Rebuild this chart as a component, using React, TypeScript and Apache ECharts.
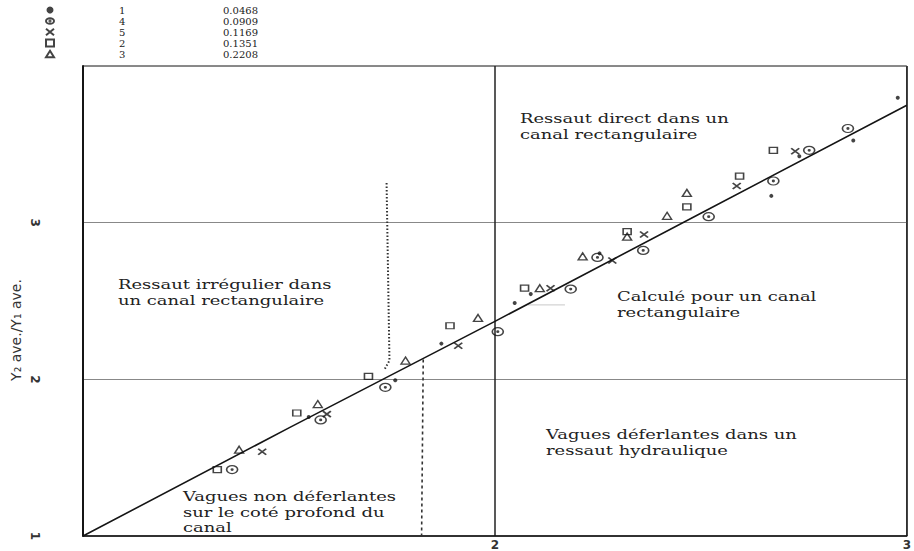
import React, { useEffect, useRef } from "react";
import * as echarts from "echarts";

// Legend: run numbers and their values
const runIds = ["1", "4", "5", "2", "3"];
const runValues = ["0.0468", "0.0909", "0.1169", "0.1351", "0.2208"];

// Measured points [F1, Y2/Y1]
const run1Dots = [
  [1.548, 1.759], [1.758, 1.994], [1.87, 2.228], [2.048, 2.487], [2.087, 2.544],
  [2.254, 2.804], [2.671, 3.171], [2.739, 3.424], [2.87, 3.525], [2.978, 3.797],
];
const run4Circles = [
  [1.362, 1.424], [1.577, 1.741], [1.734, 1.949], [2.007, 2.304], [2.184, 2.576],
  [2.249, 2.778], [2.36, 2.823], [2.519, 3.038], [2.676, 3.266], [2.763, 3.462], [2.857, 3.601],
];
const run5Crosses = [
  [1.435, 1.538], [1.592, 1.778], [1.911, 2.215], [2.135, 2.582], [2.285, 2.759],
  [2.362, 2.924], [2.587, 3.234], [2.729, 3.456],
];
const run2Squares = [
  [1.326, 1.424], [1.519, 1.785], [1.693, 2.019], [1.891, 2.342], [2.072, 2.582],
  [2.321, 2.943], [2.466, 3.101], [2.594, 3.297], [2.676, 3.462],
];
const run3Triangles = [
  [1.379, 1.551], [1.57, 1.842], [1.783, 2.12], [1.959, 2.392], [2.109, 2.582],
  [2.213, 2.785], [2.321, 2.911], [2.418, 3.044], [2.466, 3.19],
];

// Computed curve for a rectangular channel
const theoryCurve = [[1, 1], [1.5, 1.69], [2, 2.37], [2.5, 3.06], [3, 3.75]];

// Boundary guide lines
const dottedGuide = [[1.737, 3.253], [1.744, 2.12], [1.732, 2.063]];
const dashedGuide = [[1.826, 2.127], [1.822, 1.0]];
const faintArrow = [[2.17, 2.475], [2.08, 2.475]];

// Axis ticks
const xTicks = { min: 1, max: 3, interval: 1 };
const yTicks = { min: 1, max: 4, interval: 1 };

const annotations = [
  { text: "Ressaut direct dans un\ncanal rectangulaire", x: 520, y: 111 },
  { text: "Ressaut irrégulier dans\nun canal rectangulaire", x: 118, y: 277 },
  { text: "Calculé pour un canal\nrectangulaire", x: 617, y: 289 },
  { text: "Vagues déferlantes dans un\nressaut hydraulique", x: 546, y: 427 },
  { text: "Vagues non déferlantes\nsur le coté profond du\ncanal", x: 183, y: 489 },
];

const INK = "#151515";
const SERIF = '"DejaVu Serif", "Liberation Serif", serif';

export default function App() {
  const ref = useRef<HTMLDivElement>(null);
  useEffect(() => {
    document.body.style.margin = "0";
    const chart = echarts.init(ref.current!, null, { renderer: "svg" });
    const hollow = { color: "transparent", borderColor: INK, borderWidth: 1.4 };
    const scatterBase = { type: "scatter" as const, z: 5 };
    const option: any = {
      animation: false,
      backgroundColor: "#fff",
      textStyle: { fontFamily: SERIF },
      grid: {
        left: 83, right: 3, top: 66, bottom: 11,
        show: true, borderColor: INK, borderWidth: 1,
      },
      legend: {
        orient: "vertical",
        left: 45,
        top: 5,
        itemWidth: 8,
        itemHeight: 7,
        itemGap: 1,
        padding: 0,
        selectedMode: false,
        data: runIds,
        formatter: (name: string) => {
          const i = runIds.indexOf(name);
          return `{n|${name}}{v|${runValues[i]}}`;
        },
        textStyle: {
          fontSize: 10,
          lineHeight: 9,
          rich: {
            n: { width: 104, padding: [0, 0, 0, 60], fontSize: 10, fontFamily: SERIF, color: "#222", lineHeight: 9 },
            v: { fontSize: 10, fontFamily: SERIF, color: "#222", lineHeight: 9 },
          },
        },
      },
      xAxis: {
        type: "value",
        ...xTicks,
        axisLine: { show: true, lineStyle: { color: INK, width: 1.5 } },
        axisTick: { show: false },
        splitLine: { show: true, lineStyle: { color: "#222", width: 1.5 } },
        axisLabel: {
          margin: 3,
          fontSize: 12,
          fontFamily: '"DejaVu Sans", sans-serif',
          fontWeight: "bold",
          color: "#333",
          formatter: (v: number) => (v === 1 ? "" : String(v)),
        },
      },
      yAxis: {
        type: "value",
        ...yTicks,
        axisLine: { show: true, lineStyle: { color: INK, width: 2 } },
        axisTick: { show: false },
        splitLine: { show: true, lineStyle: { color: "#888", width: 1 } },
        axisLabel: {
          margin: 42,
          rotate: -90,
          fontSize: 12,
          fontFamily: '"DejaVu Sans", sans-serif',
          fontWeight: "bold",
          color: "#333",
          formatter: (v: number) => (v === 4 ? "" : String(v)),
        },
      },
      graphic: [
        {
          type: "text",
          x: 16,
          y: 330,
          rotation: Math.PI / 2,
          style: {
            text: "Y₂ ave./Y₁ ave.",
            fontSize: 14,
            fontFamily: '"DejaVu Sans", sans-serif',
            fill: "#333",
            align: "center",
            verticalAlign: "middle",
          },
        },
        ...annotations.map((a) => ({
          type: "text",
          x: a.x,
          y: a.y,
          scaleX: 1.38,
          z: 10,
          style: {
            text: a.text,
            fontSize: 13,
            fontFamily: SERIF,
            fill: "#222",
            lineHeight: 15.5,
            align: "left",
            verticalAlign: "top",
          },
        })),
      ],
      series: [
        {
          ...scatterBase,
          name: "1",
          data: run1Dots,
          symbol: "circle",
          symbolSize: 4,
          itemStyle: { color: INK },
        },
        {
          ...scatterBase,
          name: "4",
          data: run4Circles,
          symbol: "path://M0,5A7,5 0 1 1 14,5A7,5 0 1 1 0,5ZM6,5A1,1 0 1 1 8,5A1,1 0 1 1 6,5Z",
          symbolSize: [11, 8],
          itemStyle: hollow,
        },
        {
          ...scatterBase,
          name: "5",
          data: run5Crosses,
          symbol: "path://M0,0L10,8M10,0L0,8",
          symbolSize: [8, 6],
          itemStyle: { color: "transparent", borderColor: INK, borderWidth: 1.7 },
        },
        {
          ...scatterBase,
          name: "2",
          data: run2Squares,
          symbol: "rect",
          symbolSize: [8, 6],
          itemStyle: hollow,
        },
        {
          ...scatterBase,
          name: "3",
          data: run3Triangles,
          symbol: "path://M5,0L10,8L0,8Z",
          symbolSize: [9, 7],
          itemStyle: hollow,
        },
        {
          type: "line",
          name: "theory",
          data: theoryCurve,
          showSymbol: false,
          symbol: "none",
          lineStyle: { color: INK, width: 1.6 },
          z: 4,
        },
        {
          type: "line",
          name: "dotted",
          data: dottedGuide,
          showSymbol: false,
          symbol: "none",
          lineStyle: { color: "#333", width: 2, type: [1.5, 2] },
          z: 3,
        },
        {
          type: "line",
          name: "dashed",
          data: dashedGuide,
          showSymbol: false,
          symbol: "none",
          lineStyle: { color: "#333", width: 1.6, type: [3, 3] },
          z: 3,
        },
        {
          type: "line",
          name: "arrow",
          data: faintArrow,
          showSymbol: false,
          symbol: ["none", "arrow"],
          symbolSize: 6,
          lineStyle: { color: "#c8c8c8", width: 1 },
          itemStyle: { color: "#c8c8c8" },
          z: 2,
        },
      ],
    };
    chart.setOption(option);
    return () => chart.dispose();
  }, []);
  return <div ref={ref} style={{ width: 914, height: 551 }} />;
}
